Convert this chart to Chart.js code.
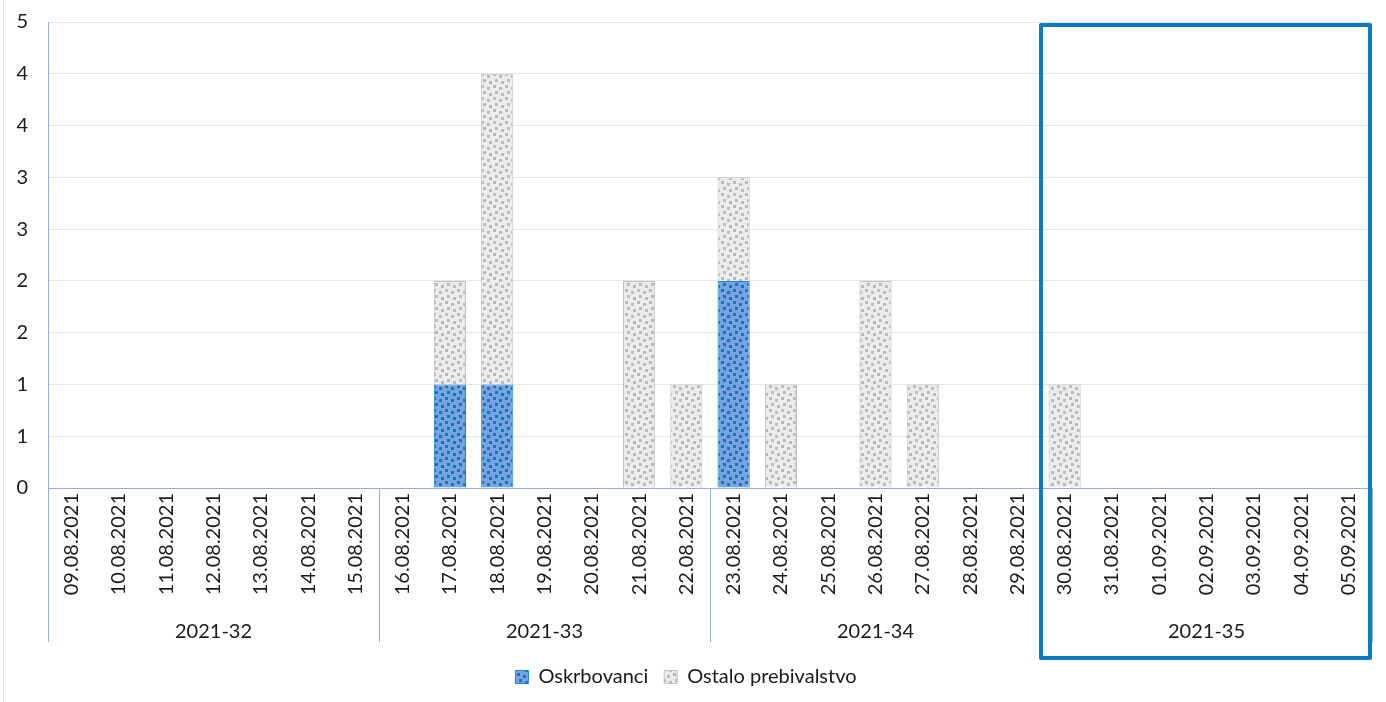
<!DOCTYPE html>
<html>
<head>
<meta charset="utf-8">
<script src="https://cdn.jsdelivr.net/npm/chart.js@4"></script>
<style>
  html, body { margin: 0; padding: 0; background: #fff; }
  #wrap { width: 1386px; height: 702px; position: relative; }
</style>
</head>
<body>
<div id="wrap"><canvas id="chart"></canvas></div>
<script>
// ─── Data ─────────────────────────────────────────────
const dates = [
  '09.08.2021', '10.08.2021', '11.08.2021', '12.08.2021', '13.08.2021', '14.08.2021', '15.08.2021',
  '16.08.2021', '17.08.2021', '18.08.2021', '19.08.2021', '20.08.2021', '21.08.2021', '22.08.2021',
  '23.08.2021', '24.08.2021', '25.08.2021', '26.08.2021', '27.08.2021', '28.08.2021', '29.08.2021',
  '30.08.2021', '31.08.2021', '01.09.2021', '02.09.2021', '03.09.2021', '04.09.2021', '05.09.2021'
];
const weeks = ['2021-32', '2021-33', '2021-34', '2021-35'];
const oskrbovanci = [
  0, 0, 0, 0, 0, 0, 0,
  0, 1, 1, 0, 0, 0, 0,
  2, 0, 0, 0, 0, 0, 0,
  0, 0, 0, 0, 0, 0, 0
];
const ostalo = [
  0, 0, 0, 0, 0, 0, 0,
  0, 1, 3, 0, 0, 2, 1,
  1, 1, 0, 2, 1, 0, 0,
  1, 0, 0, 0, 0, 0, 0
];
const daysPerWeek = 7;
const highlightWeek = 3;

// ─── Dotted fills ─────────────────────────────────────
function dottedPattern(base, dot) {
  const c = document.createElement('canvas');
  c.width = 12; c.height = 12;
  const g = c.getContext('2d');
  g.fillStyle = base;
  g.fillRect(0, 0, 12, 12);
  g.fillStyle = dot;
  [[1, 1], [7, 3], [3, 7], [9, 9]].forEach(([x, y]) => g.fillRect(x, y, 3, 3));
  return g.createPattern(c, 'repeat');
}
const blueFill = dottedPattern('#78a3df', '#0878c8');
const greyFill = dottedPattern('#ececec', '#bababa');

const axisBlue = '#8fb0de';
Chart.defaults.font.family = 'Lato';
Chart.defaults.color = '#1a1a1a';

// ─── Week separators + highlight box ──────────────────
const groupLines = {
  id: 'groupLines',
  beforeDraw(chart) {
    const ctx = chart.ctx;
    ctx.save();
    ctx.strokeStyle = '#e4e4e4';
    ctx.lineWidth = 1;
    ctx.beginPath();
    ctx.moveTo(3.5, 0);
    ctx.lineTo(3.5, chart.height);
    ctx.stroke();
    ctx.restore();
  },
  afterDraw(chart) {
    const ctx = chart.ctx;
    const x = chart.scales.x;
    const w = chart.scales.week;
    const area = chart.chartArea;
    const edge = k => {
      if (k === 0) return area.left;
      if (k === dates.length) return area.right;
      return (x.getPixelForValue(k - 1) + x.getPixelForValue(k)) / 2;
    };
    ctx.save();
    ctx.strokeStyle = axisBlue;
    ctx.lineWidth = 1;
    for (let k = 0; k <= dates.length; k += daysPerWeek) {
      const px = Math.round(edge(k)) + 0.5;
      ctx.beginPath();
      ctx.moveTo(px, k === 0 ? area.top : area.bottom);
      ctx.lineTo(px, w.top + 24);
      ctx.stroke();
    }
    // highlighted week
    const x0 = edge(highlightWeek * daysPerWeek);
    const x1 = edge((highlightWeek + 1) * daysPerWeek) - 2;
    const top = area.top + 3;
    const bottom = w.top + 40;
    ctx.strokeStyle = '#0b7cc4';
    ctx.lineWidth = 4;
    ctx.lineJoin = 'round';
    ctx.strokeRect(x0, top, x1 - x0, bottom - top);
    ctx.restore();
  }
};

// ─── Chart ────────────────────────────────────────────
new Chart(document.getElementById('chart'), {
  type: 'bar',
  data: {
    labels: dates,
    datasets: [
      {
        label: 'Oskrbovanci',
        data: oskrbovanci,
        backgroundColor: blueFill,
        borderColor: '#1a86d0',
        borderWidth: 1,
        categoryPercentage: 1,
        barPercentage: 0.68
      },
      {
        label: 'Ostalo prebivalstvo',
        data: ostalo,
        backgroundColor: greyFill,
        borderColor: '#c2c2c2',
        borderWidth: 1,
        categoryPercentage: 1,
        barPercentage: 0.68
      }
    ]
  },
  options: {
    responsive: true,
    maintainAspectRatio: false,
    animation: false,
    layout: { padding: { top: 0, right: 14, left: 0, bottom: 5 } },
    plugins: {
      tooltip: { enabled: false },
      legend: {
        position: 'bottom',
        labels: {
          boxWidth: 13,
          boxHeight: 13,
          padding: 16,
          color: '#1a1a1a',
          font: { size: 20 }
        }
      }
    },
    scales: {
      x: {
        stacked: true,
        weight: 0,
        grid: { display: false, drawTicks: false },
        border: { color: axisBlue },
        ticks: {
          autoSkip: false,
          minRotation: 90,
          maxRotation: 90,
          padding: 5,
          color: '#1a1a1a',
          font: { size: 20 }
        },
        afterFit(scale) { scale.height = 130; }
      },
      week: {
        type: 'category',
        position: 'bottom',
        labels: weeks,
        offset: true,
        weight: 1,
        grid: { display: false, drawTicks: false },
        border: { display: false },
        ticks: { padding: 2, maxRotation: 0, color: '#1a1a1a', font: { size: 20 } },
        afterFit(scale) { scale.height = 33; }
      },
      y: {
        stacked: true,
        min: 0,
        max: 4.5,
        grid: { color: '#e2e5f3', drawTicks: true, tickLength: 10, tickColor: 'rgba(0,0,0,0)' },
        border: { color: axisBlue },
        ticks: {
          stepSize: 0.5,
          padding: 10,
          color: '#1a1a1a',
          font: { size: 20 },
          callback: v => Math.round(v)
        },
        afterFit(scale) { scale.width = 48; }
      }
    }
  },
  plugins: [groupLines]
});
</script>
</body>
</html>
